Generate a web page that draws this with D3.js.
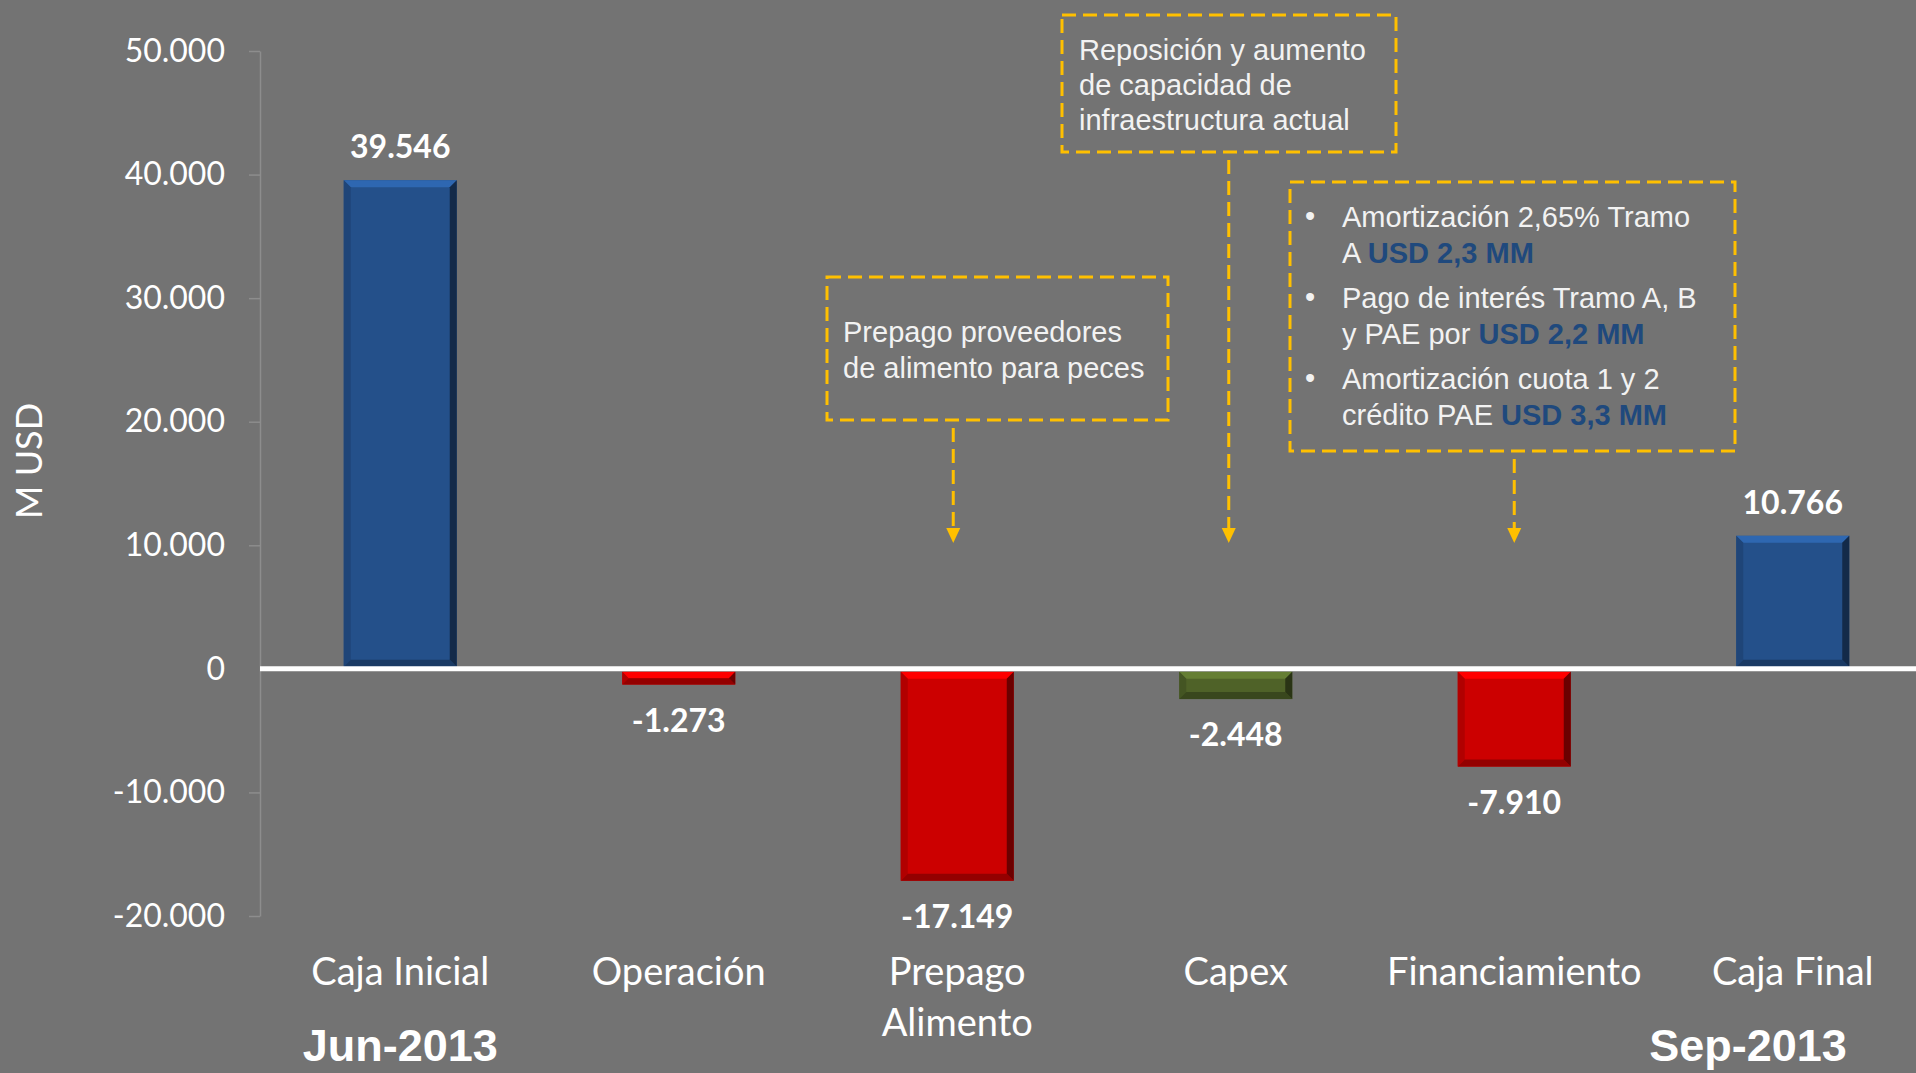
<!DOCTYPE html>
<html>
<head>
<meta charset="utf-8">
<script src="https://cdn.jsdelivr.net/npm/d3@7"></script>
<style>
  html, body { margin: 0; padding: 0; background: #737373; }
  svg { display: block; }
</style>
</head>
<body>
<div id="chart"></div>
<script>
// data
var categories = ["Caja Inicial", "Operación", "Prepago Alimento", "Capex", "Financiamiento", "Caja Final"]
var values = [39546, -1273, -17149, -2448, -7910, 10766]
var barColors = ["#24508A", "#CC0000", "#CC0000", "#4F6228", "#CC0000", "#24508A"]
var yTicks = [-20000, -10000, 0, 10000, 20000, 30000, 40000, 50000]
var periodLabels = ["Jun-2013", "Sep-2013"]

var noteFeed = ["Prepago proveedores", "de alimento para peces"]
var noteCapex = ["Reposición y aumento", "de capacidad de", "infraestructura actual"]
var noteFin = [
  [["Amortización 2,65% Tramo"], ["A ", "USD 2,3 MM"]],
  [["Pago de interés Tramo A, B"], ["y PAE por ", "USD 2,2 MM"]],
  [["Amortización cuota 1 y 2"], ["crédito PAE ", "USD 3,3 MM"]]
]

var width = 1916,
  height = 1073

var svg = d3.select("#chart").append("svg")
  .attr("width", width)
  .attr("height", height)

svg.append("rect").attr("width", width).attr("height", height).attr("fill", "#737373")

var fmt = d3.formatLocale({ decimal: ",", thousands: ".", grouping: [3], currency: ["", ""], minus: "-" }).format(",d")

var x = d3.scaleBand().domain(categories).range([261, 1932]).padding(0)
var y = d3.scaleLinear().domain([-20000, 50000]).range([916, 51])
var barW = 113

/* ------- AXIS -------*/
var yAxis = svg.append("g")
  .attr("transform", "translate(260,0)")
  .call(d3.axisLeft(y).tickValues(yTicks).tickFormat(fmt).tickSize(11).tickSizeOuter(0).tickPadding(24))

yAxis.select(".domain").attr("stroke", "#8d8d8d").attr("stroke-width", 1.5)
yAxis.selectAll(".tick line").attr("stroke", "#8d8d8d").attr("stroke-width", 1.5)
yAxis.selectAll(".tick text")
  .attr("fill", "#ffffff")
  .style("font-family", "Lato, 'Open Sans', sans-serif")
  .style("font-size", "32px")
yAxis.selectAll(".tick").filter(function(d) { return d === 0 }).select("line").remove()

svg.append("text")
  .attr("transform", "translate(42,461) rotate(-90)")
  .attr("text-anchor", "middle")
  .attr("fill", "#ffffff")
  .style("font-family", "Lato, sans-serif")
  .style("font-size", "36px")
  .text("M USD")

/* ------- BARS -------*/
function bevelBar(g, x0, y0, x1, y1, color) {
  var h = y1 - y0
  var b = Math.min(7, h / 2)
  var c = d3.color(color)
  g.append("rect").attr("x", x0).attr("y", y0).attr("width", x1 - x0).attr("height", h).attr("fill", color)
  var polys = [
    { p: [[x0, y0], [x1, y0], [x1 - b, y0 + b], [x0 + b, y0 + b]], f: c.brighter(0.7) },
    { p: [[x0, y0], [x0 + b, y0 + b], [x0 + b, y1 - b], [x0, y1]], f: c.darker(0.4) },
    { p: [[x0, y1], [x0 + b, y1 - b], [x1 - b, y1 - b], [x1, y1]], f: c.darker(0.9) },
    { p: [[x1, y0], [x1, y1], [x1 - b, y1 - b], [x1 - b, y0 + b]], f: c.darker(1.8) }
  ]
  polys.forEach(function(q) {
    g.append("polygon").attr("points", q.p.join(" ")).attr("fill", q.f)
  })
}

var bars = svg.append("g").attr("class", "bars")
values.forEach(function(v, i) {
  var cx = x(categories[i]) + x.bandwidth() / 2
  var top = v >= 0 ? y(v) : y(0) + 3
  var bot = v >= 0 ? y(0) - 2 : y(v)
  bevelBar(bars, cx - barW / 2, top, cx + barW / 2, bot, barColors[i])
})

// zero line
svg.append("line")
  .attr("x1", 260).attr("x2", width)
  .attr("y1", y(0)).attr("y2", y(0))
  .attr("stroke", "#ffffff").attr("stroke-width", 5)

/* ------- VALUE LABELS -------*/
svg.append("g").selectAll("text")
  .data(values)
  .enter().append("text")
  .attr("x", function(d, i) { return x(categories[i]) + x.bandwidth() / 2 })
  .attr("y", function(d) { return d >= 0 ? y(d) - 22 : y(d) + 47 })
  .attr("text-anchor", "middle")
  .attr("fill", "#ffffff")
  .style("font-family", "Lato, sans-serif")
  .style("font-weight", "bold")
  .style("font-size", "32px")
  .text(function(d) { return fmt(d) })

/* ------- CATEGORY LABELS -------*/
var catG = svg.append("g")
categories.forEach(function(c) {
  var words = c === "Prepago Alimento" ? ["Prepago", "Alimento"] : [c]
  var t = catG.append("text")
    .attr("x", x(c) + x.bandwidth() / 2)
    .attr("y", 985)
    .attr("text-anchor", "middle")
    .attr("fill", "#ffffff")
    .style("font-family", "Lato, sans-serif")
    .style("font-size", "38px")
  words.forEach(function(w, j) {
    t.append("tspan").attr("x", x(c) + x.bandwidth() / 2).attr("dy", j ? 51 : 0).text(w)
  })
})

svg.selectAll(".period")
  .data(periodLabels)
  .enter().append("text")
  .attr("class", "period")
  .attr("x", function(d, i) { return i ? 1748 : x(categories[0]) + x.bandwidth() / 2 })
  .attr("y", 1061)
  .attr("text-anchor", "middle")
  .attr("fill", "#ffffff")
  .style("font-family", "'Liberation Sans', Arial, sans-serif")
  .style("font-weight", "bold")
  .style("font-size", "45px")
  .text(function(d) { return d })

/* ------- NOTES -------*/
var gold = "#FFC000"
var notes = svg.append("g")
  .style("font-family", "'Liberation Sans', Arial, sans-serif")
  .style("font-size", "29px")

function box(x0, y0, x1, y1) {
  notes.append("rect")
    .attr("x", x0).attr("y", y0).attr("width", x1 - x0).attr("height", y1 - y0)
    .attr("fill", "none").attr("stroke", gold).attr("stroke-width", 3)
    .attr("stroke-dasharray", "14,7")
}

function arrow(cx, y0, tip) {
  notes.append("line")
    .attr("x1", cx).attr("x2", cx).attr("y1", y0 + 8).attr("y2", tip - 14)
    .attr("stroke", gold).attr("stroke-width", 3).attr("stroke-dasharray", "14,7")
  notes.append("polygon")
    .attr("points", [[cx - 7, tip - 15], [cx + 7, tip - 15], [cx, tip]].join(" "))
    .attr("fill", gold)
}

// feed prepayment
box(827, 277, 1168, 420)
noteFeed.forEach(function(l, i) {
  notes.append("text").attr("x", 843).attr("y", 342 + i * 36).attr("fill", "#f2f2f2").text(l)
})
arrow(x(categories[2]) + x.bandwidth() / 2 - 4, 420, 543)

// capex
box(1062, 15, 1396, 152)
noteCapex.forEach(function(l, i) {
  notes.append("text").attr("x", 1079).attr("y", 60 + i * 35).attr("fill", "#f2f2f2").text(l)
})
arrow(x(categories[3]) + x.bandwidth() / 2 - 7, 152, 543)

// financing
box(1290, 182, 1735, 451)
var finBase = [227, 308, 389]
noteFin.forEach(function(item, i) {
  notes.append("text").attr("x", 1305).attr("y", finBase[i] - 1).attr("fill", "#f2f2f2").text("•")
  item.forEach(function(parts, j) {
    var t = notes.append("text").attr("x", 1342).attr("y", finBase[i] + j * 36).attr("fill", "#f2f2f2")
    parts.forEach(function(p, k) {
      var s = t.append("tspan").text(p)
      if (k === 1) s.attr("fill", "#1F497D").style("font-weight", "bold")
    })
  })
})
arrow(x(categories[4]) + x.bandwidth() / 2, 451, 543)
</script>
</body>
</html>
